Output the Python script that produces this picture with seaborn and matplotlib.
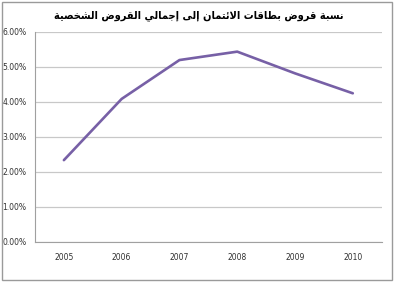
import numpy as np
import pandas as pd
import matplotlib
matplotlib.use("Agg")
import matplotlib.pyplot as plt
from matplotlib.patches import Rectangle
from matplotlib.ticker import FuncFormatter
import seaborn as sns

years = ["2005", "2006", "2007", "2008", "2009", "2010"]
ratio_pct = [2.33, 4.08, 5.19, 5.43, 4.81, 4.24]
y_ticks = [0, 1, 2, 3, 4, 5, 6]
title = "نسبة قروض بطاقات الائتمان إلى إجمالي القروض الشخصية"

# presentation forms: isolated, final, initial, medial
FORMS = {
    "ا": ("\uFE8D", "\uFE8E"), "إ": ("\uFE87", "\uFE88"),
    "ة": ("\uFE93", "\uFE94"), "ر": ("\uFEAD", "\uFEAE"),
    "و": ("\uFEED", "\uFEEE"), "ى": ("\uFEEF", "\uFEF0"),
    "ب": ("\uFE8F", "\uFE90", "\uFE91", "\uFE92"),
    "ت": ("\uFE95", "\uFE96", "\uFE97", "\uFE98"),
    "ج": ("\uFE9D", "\uFE9E", "\uFE9F", "\uFEA0"),
    "خ": ("\uFEA5", "\uFEA6", "\uFEA7", "\uFEA8"),
    "س": ("\uFEB1", "\uFEB2", "\uFEB3", "\uFEB4"),
    "ش": ("\uFEB5", "\uFEB6", "\uFEB7", "\uFEB8"),
    "ص": ("\uFEB9", "\uFEBA", "\uFEBB", "\uFEBC"),
    "ض": ("\uFEBD", "\uFEBE", "\uFEBF", "\uFEC0"),
    "ط": ("\uFEC1", "\uFEC2", "\uFEC3", "\uFEC4"),
    "ق": ("\uFED5", "\uFED6", "\uFED7", "\uFED8"),
    "ل": ("\uFEDD", "\uFEDE", "\uFEDF", "\uFEE0"),
    "م": ("\uFEE1", "\uFEE2", "\uFEE3", "\uFEE4"),
    "ن": ("\uFEE5", "\uFEE6", "\uFEE7", "\uFEE8"),
    "ي": ("\uFEF1", "\uFEF2", "\uFEF3", "\uFEF4"),
    "ئ": ("\uFE89", "\uFE8A", "\uFE8B", "\uFE8C"),
}


def shape_arabic(text):
    """Join letters into presentation forms and reverse for LTR drawing."""
    words = []
    for word in text.split(" "):
        # lam-alef ligature
        chars = []
        i = 0
        while i < len(word):
            if word[i] == "ل" and i + 1 < len(word) and word[i + 1] == "ا":
                chars.append("LA")
                i += 2
            else:
                chars.append(word[i])
                i += 1
        out = []
        for k, ch in enumerate(chars):
            prev = chars[k - 1] if k > 0 else None
            nxt = chars[k + 1] if k + 1 < len(chars) else None
            j_prev = prev is not None and prev != "LA" and len(FORMS[prev]) == 4
            if ch == "LA":
                out.append("\uFEFC" if j_prev else "\uFEFB")
                continue
            forms = FORMS[ch]
            j_next = nxt is not None and len(forms) == 4
            if j_prev and j_next:
                out.append(forms[3])
            elif j_prev:
                out.append(forms[1])
            elif j_next:
                out.append(forms[2])
            else:
                out.append(forms[0])
        words.append("".join(out))
    return " ".join(words)[::-1]


df = pd.DataFrame({"year": years, "ratio": ratio_pct})

sns.set_style("white")
plt.rcParams["font.family"] = ["DejaVu Sans"]

fig = plt.figure(figsize=(4.0, 2.9), dpi=100)
ax = fig.add_axes([0.0875, 0.1666, 0.8667, 0.7241])

sns.lineplot(data=df, x="year", y="ratio", ax=ax, color="#7760a6",
             linewidth=1.9, sort=False)

ax.set_xlim(-0.5, len(years) - 0.5)
ax.set_ylim(0, 6)
ax.set_yticks(y_ticks)
ax.yaxis.set_major_formatter(FuncFormatter(lambda v, p: f"{v:.2f}%"))
ax.yaxis.grid(True, color="#c8c8c8", linewidth=0.9)
ax.set_axisbelow(True)

ax.set_xticks(np.arange(-0.5, len(years)), minor=False)
ax.set_xticklabels([])
ax.set_xticks(np.arange(len(years)), minor=True)
ax.set_xticklabels(years, minor=True)
ax.tick_params(axis="x", which="major", length=4, color="#a0a0a0", width=0.8)
ax.tick_params(axis="x", which="minor", length=0, labelsize=5.5,
               labelcolor="#303030", pad=8)
ax.tick_params(axis="y", length=4, color="#a0a0a0", width=0.8,
               labelsize=5.5, labelcolor="#303030", pad=2)
ax.set_xlabel("")
ax.set_ylabel("")

for side in ["top", "right"]:
    ax.spines[side].set_visible(False)
for side in ["left", "bottom"]:
    ax.spines[side].set_color("#a0a0a0")
    ax.spines[side].set_linewidth(0.8)

fig.text(0.496, 0.945, shape_arabic(title), ha="center", va="center",
         fontsize=7.9, fontweight="bold", fontstretch="condensed", color="black")

fig.patches.append(Rectangle((0.005, 0.035), 0.975, 0.958, transform=fig.transFigure,
                             fill=False, edgecolor="#9a9a9a", linewidth=1.0))

fig.savefig("out.png", dpi=100)
